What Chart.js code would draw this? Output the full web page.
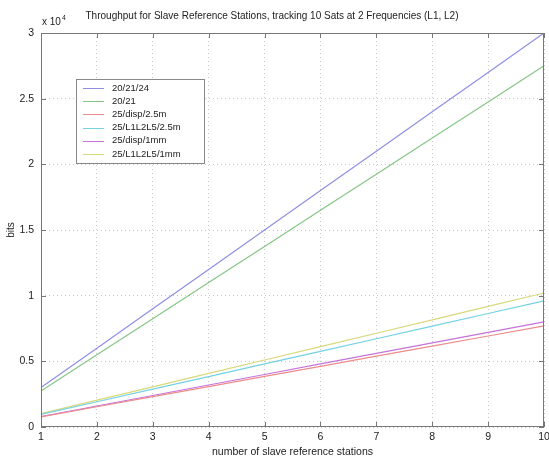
<!DOCTYPE html>
<html>
<head>
<meta charset="utf-8">
<script src="https://cdn.jsdelivr.net/npm/chart.js@4/dist/chart.umd.min.js"></script>
<style>
  html, body { margin: 0; padding: 0; background: #fff; }
  #wrap { width: 549px; height: 458px; }
</style>
</head>
<body>
<div id="wrap"><canvas id="throughput"></canvas></div>
<script>
    // Data (bits)
    var stations = [1, 2, 3, 4, 5, 6, 7, 8, 9, 10];
    var yTicks = [0, 5000, 10000, 15000, 20000, 25000, 30000];
    var seriesNames = ["20/21/24", "20/21", "25/disp/2.5m", "25/L1L2L5/2.5m", "25/disp/1mm", "25/L1L2L5/1mm"];
    var s202124 = [3000, 6000, 9000, 12000, 15000, 18000, 21000, 24000, 27000, 30000];
    var s2021 = [2750, 5500, 8250, 11000, 13750, 16500, 19250, 22000, 24750, 27500];
    var sDisp25 = [770, 1540, 2310, 3080, 3850, 4620, 5390, 6160, 6930, 7700];
    var sL125 = [960, 1920, 2880, 3840, 4800, 5760, 6720, 7680, 8640, 9600];
    var sDisp1 = [800, 1600, 2400, 3200, 4000, 4800, 5600, 6400, 7200, 8000];
    var sL11 = [1020, 2040, 3060, 4080, 5100, 6120, 7140, 8160, 9180, 10200];

    var seriesData = [s202124, s2021, sDisp25, sL125, sDisp1, sL11];
    var seriesColors = ["#8f8fe4", "#86c686", "#ec8c8c", "#74d2e2", "#c474d8", "#d8d87c"];
    var FONT = "'Liberation Sans', Arial, sans-serif";

    // box, inward ticks, exponent and legend drawn on top
    var matlabAxes = {
        id: "matlabAxes",
        afterDraw: function (chart) {
            var ctx = chart.ctx;
            var a = chart.chartArea;
            var xs = chart.scales.x, ys = chart.scales.y;
            ctx.save();
            ctx.strokeStyle = "#777";
            ctx.lineWidth = 1;
            ctx.strokeRect(a.left + 0.5, a.top + 0.5, a.right - a.left - 1, a.bottom - a.top - 1);

            // inward ticks
            ctx.beginPath();
            xs.ticks.forEach(function (t, i) {
                var px = Math.round(xs.getPixelForTick(i)) + 0.5;
                ctx.moveTo(px, a.bottom); ctx.lineTo(px, a.bottom - 5);
                ctx.moveTo(px, a.top); ctx.lineTo(px, a.top + 5);
            });
            ys.ticks.forEach(function (t) {
                var py = Math.round(ys.getPixelForValue(t.value)) + 0.5;
                ctx.moveTo(a.left, py); ctx.lineTo(a.left + 5, py);
                ctx.moveTo(a.right, py); ctx.lineTo(a.right - 5, py);
            });
            ctx.stroke();

            // x 10^4
            ctx.fillStyle = "#222";
            ctx.textBaseline = "alphabetic";
            ctx.textAlign = "left";
            ctx.font = "10px " + FONT;
            ctx.fillText("x 10", a.left + 1, a.top - 8);
            ctx.font = "7px " + FONT;
            ctx.fillText("4", a.left + 21, a.top - 13);

            // legend
            var lx = 76, ly = 79, lw = 128, lh = 84;
            ctx.fillStyle = "#fff";
            ctx.fillRect(lx, ly, lw, lh);
            ctx.strokeStyle = "#888";
            ctx.strokeRect(lx + 0.5, ly + 0.5, lw, lh);
            ctx.font = "9.5px " + FONT;
            ctx.textBaseline = "middle";
            chart.data.datasets.forEach(function (ds, i) {
                var y = ly + 9 + i * 13.2;
                ctx.strokeStyle = ds.borderColor;
                ctx.beginPath();
                ctx.moveTo(lx + 7, Math.round(y) + 0.5);
                ctx.lineTo(lx + 28, Math.round(y) + 0.5);
                ctx.stroke();
                ctx.fillStyle = "#222";
                ctx.fillText(ds.label, lx + 36, y);
            });
            ctx.restore();
        }
    };

    var ctx1 = document.getElementById("throughput").getContext("2d");
    var myChart1 = new Chart(ctx1, {
        type: "line",
        data: {
            labels: stations,
            datasets: seriesData.map(function (d, i) {
                return {
                    label: seriesNames[i],
                    data: d,
                    borderColor: seriesColors[i],
                    backgroundColor: seriesColors[i],
                    borderWidth: 1.2,
                    pointRadius: 0,
                    fill: false,
                    tension: 0
                };
            })
        },
        options: {
            responsive: true,
            maintainAspectRatio: false,
            animation: false,
            layout: { padding: { left: 0, right: 5, top: 0, bottom: 0 } },
            plugins: {
                legend: { display: false },
                tooltip: { enabled: false },
                title: {
                    display: true,
                    text: "Throughput for Slave Reference Stations, tracking 10 Sats at 2 Frequencies (L1, L2)",
                    color: "#222",
                    font: { family: FONT, size: 10, weight: "normal", lineHeight: 1.2 },
                    padding: { top: 10, bottom: 11 }
                }
            },
            scales: {
                x: {
                    type: "category",
                    offset: false,
                    grid: { color: "#c8c8c8", drawTicks: false },
                    border: { display: false, dash: [1, 3] },
                    ticks: { color: "#222", font: { family: FONT, size: 10.5 }, padding: 4, maxRotation: 0, autoSkip: false },
                    title: { display: true, text: "number of slave reference stations", color: "#222",
                             font: { family: FONT, size: 10.5 }, padding: { top: 0, bottom: 0 } },
                    afterFit: function (scale) {
                        scale.height = 31;
                        scale.paddingLeft = 0;
                        scale.paddingRight = 0;
                    }
                },
                y: {
                    min: 0,
                    max: 30000,
                    afterBuildTicks: function (scale) {
                        scale.ticks = yTicks.map(function (v) { return { value: v }; });
                    },
                    grid: { color: "#c8c8c8", drawTicks: false },
                    border: { display: false, dash: [1, 3] },
                    ticks: {
                        color: "#222",
                        font: { family: FONT, size: 10.5 },
                        padding: 7,
                        callback: function (v) { return String(v / 10000); }
                    },
                    title: { display: true, text: "bits", color: "#222", font: { family: FONT, size: 10 }, padding: { top: 5, bottom: 0 } },
                    afterFit: function (scale) {
                        scale.width = 41;
                        scale.paddingTop = 0;
                        scale.paddingBottom = 0;
                    }
                }
            }
        },
        plugins: [matlabAxes]
    });
</script>
</body>
</html>
